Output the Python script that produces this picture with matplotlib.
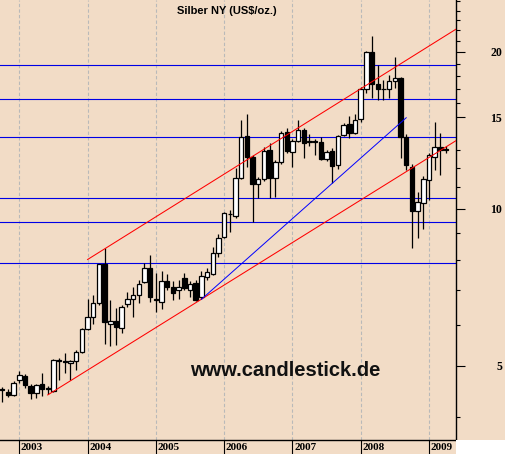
import matplotlib
matplotlib.use("Agg")
import matplotlib.pyplot as plt
from matplotlib.patches import Rectangle
from matplotlib.ticker import NullFormatter
import numpy as np

# month index: 0 = Jan 2003 (Oct 2002 .. Apr 2009)
months = list(range(-3, 76))

opens = [4.52, 4.46, 4.39, 4.69, 4.79, 4.57, 4.44, 4.61, 4.53, 4.48,
         5.13, 5.10, 5.06, 5.11, 5.32, 5.88, 6.20, 6.59, 7.84, 6.03,
         6.10, 5.92, 6.57, 6.71, 6.83, 7.25, 7.69, 6.72, 6.64, 7.27,
         7.08, 7.00, 7.36, 7.00, 7.22, 6.79, 7.40, 7.52, 8.22, 8.83,
         9.78, 9.71, 11.49, 13.80, 12.60, 11.15, 11.40, 12.98, 11.49, 12.29,
         14.04, 12.88, 13.52, 14.17, 13.43, 13.48, 13.46, 12.45, 12.94, 12.15,
         13.86, 14.55, 13.99, 14.85, 16.97, 19.98, 17.35, 16.95, 16.97, 17.56,
         17.83, 13.76, 12.06, 9.93, 10.28, 11.34, 12.60, 13.16, 13.02]
highs = [4.56, 4.52, 4.67, 4.90, 4.83, 4.62, 4.62, 4.84, 4.57, 5.16,
         5.17, 5.29, 5.13, 5.37, 5.92, 6.71, 6.85, 7.86, 8.41, 6.69,
         6.45, 6.55, 6.94, 7.09, 7.31, 7.87, 8.16, 7.54, 7.59, 7.50,
         7.27, 7.31, 7.55, 7.27, 7.31, 7.59, 7.70, 8.46, 8.97, 9.88,
         9.96, 11.97, 14.81, 15.22, 12.70, 11.50, 13.16, 13.36, 12.40, 14.10,
         14.28, 13.60, 14.81, 14.30, 13.90, 13.60, 13.76, 13.00, 13.10, 13.85,
         14.60, 15.10, 15.22, 17.10, 20.10, 21.50, 18.86, 17.68, 18.04, 19.52,
         17.90, 13.95, 12.20, 10.79, 11.57, 12.80, 14.70, 13.97, 13.20]
lows = [4.27, 4.36, 4.37, 4.64, 4.54, 4.33, 4.34, 4.37, 4.41, 4.46,
        4.71, 4.84, 4.70, 4.91, 5.30, 5.85, 6.03, 6.55, 5.51, 5.45,
        5.49, 5.79, 6.50, 6.20, 6.60, 7.20, 6.62, 6.34, 6.42, 7.00,
        6.69, 6.71, 7.00, 6.79, 6.66, 6.71, 7.30, 7.48, 8.10, 8.78,
        9.05, 9.60, 11.40, 12.06, 9.45, 10.51, 11.30, 10.51, 10.56, 12.20,
        12.79, 12.06, 13.45, 12.51, 13.20, 12.69, 12.40, 12.35, 11.20, 11.95,
        13.80, 13.67, 13.90, 14.70, 16.70, 16.30, 16.18, 16.18, 16.30, 17.08,
        12.50, 11.90, 8.43, 8.81, 9.14, 10.40, 11.90, 11.60, 12.80]
closes = [4.50, 4.40, 4.63, 4.80, 4.59, 4.44, 4.59, 4.52, 4.51, 5.14,
          5.12, 5.08, 5.11, 5.31, 5.88, 6.20, 6.59, 7.84, 6.06, 6.10,
          5.94, 6.48, 6.71, 6.83, 7.18, 7.69, 6.79, 6.70, 7.27, 7.10,
          6.90, 7.08, 7.05, 7.18, 6.69, 7.44, 7.57, 8.22, 8.81, 9.81,
          9.76, 11.49, 13.72, 12.60, 11.15, 11.40, 12.92, 11.46, 12.29, 13.97,
          12.94, 13.52, 14.17, 13.40, 13.48, 13.44, 12.45, 12.88, 12.11, 13.80,
          14.47, 13.99, 14.81, 16.97, 19.98, 17.35, 16.97, 17.00, 17.57, 17.83,
          13.76, 12.14, 9.89, 10.30, 11.40, 12.69, 13.16, 13.00, 13.00]

years = [2003, 2004, 2005, 2006, 2007, 2008, 2009]
year_months = [0, 12, 24, 36, 48, 60, 72]

# support / resistance levels
levels = [18.88, 16.25, 13.74, 10.50, 9.44, 7.88]

# trend lines: (months, prices)
upper_channel_x = [12, 76.75]
upper_channel_y = [8.0, 22.12]
lower_channel_x = [5, 76.75]
lower_channel_y = [4.40, 13.52]
blue_trend_x = [32, 68]
blue_trend_y = [6.71, 14.96]

BG = "#f2dcc6"
W, H = 506, 454

fig = plt.figure(figsize=(W / 100, H / 100), dpi=100)
fig.patch.set_facecolor(BG)
fig.patches.append(Rectangle((456 / W, 0), 50 / W, 14 / H, transform=fig.transFigure,
                             facecolor="white", edgecolor="none"))

ax = fig.add_axes([0, 14 / H, 456 / W, 440 / H])
ax.set_facecolor(BG)
ax.set_yscale("log")
ax.set_xlim(-3.39, 76.75)
ax.set_ylim(3.606, 25.16)

for lvl in levels:
    ax.axhline(lvl, color="#0000e6", lw=0.8, zorder=2)

ax.plot(upper_channel_x, upper_channel_y, color="red", lw=0.75, zorder=5)
ax.plot(lower_channel_x, lower_channel_y, color="red", lw=0.75, zorder=5)
ax.plot(blue_trend_x, blue_trend_y, color="#0000ff", lw=0.7, zorder=5)

o = np.array(opens)
c = np.array(closes)
up = c >= o
bottom = np.minimum(o, c)
top = np.maximum(np.maximum(o, c), bottom * 1.003)
ax.vlines(months, lows, highs, color="black", lw=0.9, zorder=3)
ax.bar(months, top - bottom, bottom=bottom, width=0.78,
       color=["white" if u else "black" for u in up], edgecolor="black", linewidth=0.9, zorder=4)

# x axis: year separators + labels
ax.set_xticks(year_months)
ax.set_xticklabels([])
ax.tick_params(axis="x", which="major", length=10.1, width=0.8, color="black")
ax.set_xticks([m + 0.28 for m in year_months], minor=True)
ax.set_xticklabels([str(y) for y in years], minor=True)
ax.tick_params(axis="x", which="minor", length=0, pad=1.8)
plt.setp(ax.get_xticklabels(minor=True), ha="left", family="Liberation Serif",
         fontweight="bold", fontsize=8)
ax.grid(axis="x", which="major", color="#b9b9b9", linestyle=(0, (3, 2)), lw=0.8)
ax.set_axisbelow(True)

# y axis on the right
ax.yaxis.tick_right()
ax.set_yticks([5, 10, 15, 20])
ax.set_yticklabels(["5", "10", "15", "20"])
minor = [4, 6, 7, 8, 9, 11, 12, 13, 16, 17, 18, 19, 21, 22, 23, 24, 25]
ax.set_yticks(minor, minor=True)
ax.yaxis.set_minor_formatter(NullFormatter())
ax.tick_params(axis="y", which="major", length=6.5, width=0.8, pad=26.6)
ax.tick_params(axis="y", which="minor", length=2.9, width=0.8)
plt.setp(ax.get_yticklabels(), ha="right", family="Liberation Serif",
         fontweight="bold", fontsize=8.5)

for side in ["left", "top"]:
    ax.spines[side].set_visible(False)
ax.spines["right"].set_linewidth(1.0)
ax.spines["bottom"].set_linewidth(1.0)

fig.text(226.7 / W, 1 - 10.5 / H, "Silber NY (US$/oz.)", ha="center", va="center",
         family="Liberation Sans", fontweight="bold", fontsize=8)
fig.text(285 / W, 1 - 370 / H, "www.candlestick.de", ha="center", va="center",
         family="Liberation Sans", fontweight="bold", fontsize=14.5, color="#111111")

fig.savefig("out.png", dpi=100, facecolor=fig.get_facecolor())
